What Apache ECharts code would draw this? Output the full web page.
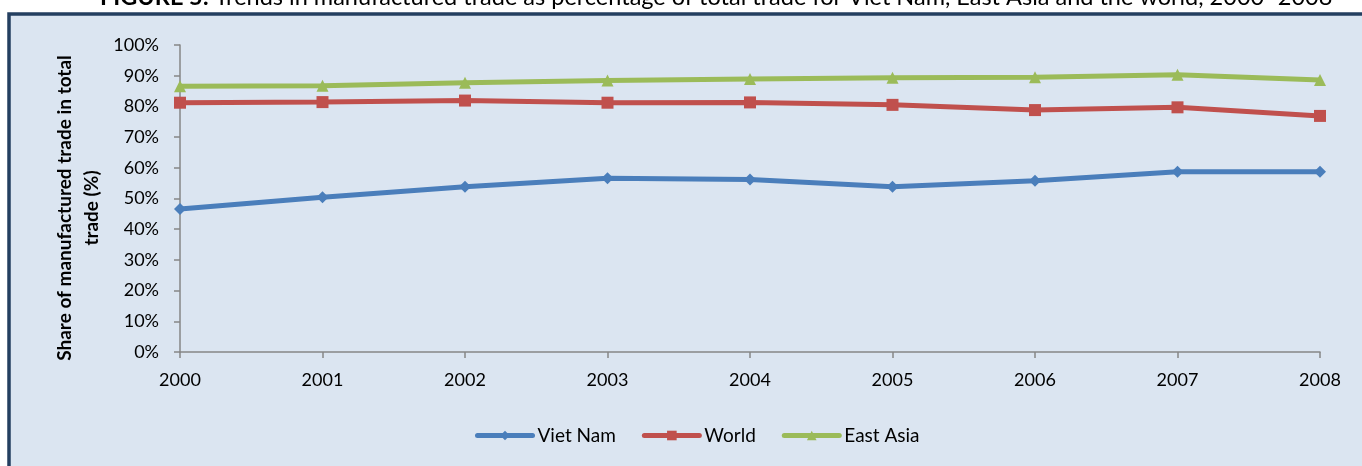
<!DOCTYPE html>
<html>
<head>
<meta charset="utf-8">
<style>
  html, body { margin: 0; padding: 0; background: #ffffff; }
  #chart { width: 1362px; height: 466px; }
</style>
<script src="https://cdn.jsdelivr.net/npm/echarts@6/dist/echarts.min.js"></script>
</head>
<body>
<div id="chart"></div>
<script>
// Years on the category axis
const years = ['2000', '2001', '2002', '2003', '2004', '2005', '2006', '2007', '2008'];

// Share of manufactured trade in total trade (%)
const vietNam  = [46.6, 50.4, 53.8, 56.6, 56.2, 53.8, 55.8, 58.7, 58.7];
const world    = [81.2, 81.4, 81.9, 81.2, 81.3, 80.5, 78.8, 79.7, 76.9];
const eastAsia = [86.6, 86.7, 87.7, 88.4, 88.9, 89.3, 89.5, 90.3, 88.6];

const titleText = '{b|FIGURE 5:} Trends in manufactured trade as percentage of total trade for Viet Nam, East Asia and the world, 2000–2008';
const yAxisTitle = 'Share of manufactured trade in total\ntrade (%)';

const FONT = 'Lato, "Open Sans", sans-serif';
const AXIS_GREY = '#868686';

function lineSeries(name, data, color, symbol) {
  return {
    name: name,
    type: 'line',
    data: data,
    symbol: symbol,
    symbolSize: 12,
    lineStyle: { color: color, width: 5 },
    itemStyle: { color: color, borderWidth: 0 },
    emphasis: { disabled: true },
    z: 3
  };
}

const chart = echarts.init(document.getElementById('chart'));
chart.setOption({
  animation: false,
  backgroundColor: '#ffffff',
  graphic: [
    {
      type: 'rect',
      z: -10,
      shape: { x: 9, y: 14, width: 1420, height: 520 },
      style: { fill: '#dbe5f1', stroke: '#243f60', lineWidth: 3.5 },
      silent: true
    },
    {
      type: 'text',
      z: -5,
      x: 100,
      y: -3,
      style: {
        text: titleText,
        font: '23.5px ' + FONT,
        fill: '#000000',
        textAlign: 'left',
        textVerticalAlign: 'middle',
        rich: { b: { fontWeight: 'bold', fontSize: 23.5, fontFamily: FONT } }
      },
      silent: true
    },
    {
      type: 'text',
      x: 78,
      y: 208,
      rotation: Math.PI / 2,
      style: {
        text: yAxisTitle,
        font: 'bold 19px ' + FONT,
        fill: '#000000',
        textAlign: 'center',
        textVerticalAlign: 'middle',
        lineHeight: 27
      },
      silent: true
    }
  ],
  grid: { left: 180, right: 42, top: 45, bottom: 114, containLabel: false },
  legend: {
    left: 470,
    top: 421,
    itemWidth: 55,
    itemHeight: 12,
    itemGap: 26,
    lineStyle: { width: 5, cap: 'round' },
    textStyle: { fontFamily: FONT, fontSize: 19, color: '#000000' },
    data: ['Viet Nam', 'World', 'East Asia']
  },
  xAxis: {
    type: 'category',
    data: years,
    boundaryGap: false,
    axisLine: { lineStyle: { color: AXIS_GREY, width: 1.5 } },
    axisTick: { show: true, alignWithLabel: true, length: 6, lineStyle: { color: AXIS_GREY, width: 1.5 } },
    axisLabel: { margin: 19, fontFamily: FONT, fontSize: 18, color: '#000000' },
    splitLine: { show: false }
  },
  yAxis: {
    type: 'value',
    min: 0,
    max: 100,
    interval: 10,
    axisLine: { show: true, lineStyle: { color: AXIS_GREY, width: 1.5 } },
    axisTick: { show: true, length: 6, lineStyle: { color: AXIS_GREY, width: 1.5 } },
    axisLabel: { margin: 21, fontFamily: FONT, fontSize: 18, color: '#000000', formatter: '{value}%' },
    splitLine: { show: false }
  },
  series: [
    lineSeries('Viet Nam', vietNam, '#4a7ebb', 'diamond'),
    lineSeries('World', world, '#c0504d', 'rect'),
    lineSeries('East Asia', eastAsia, '#9bbb59', 'triangle')
  ]
});
</script>
</body>
</html>
